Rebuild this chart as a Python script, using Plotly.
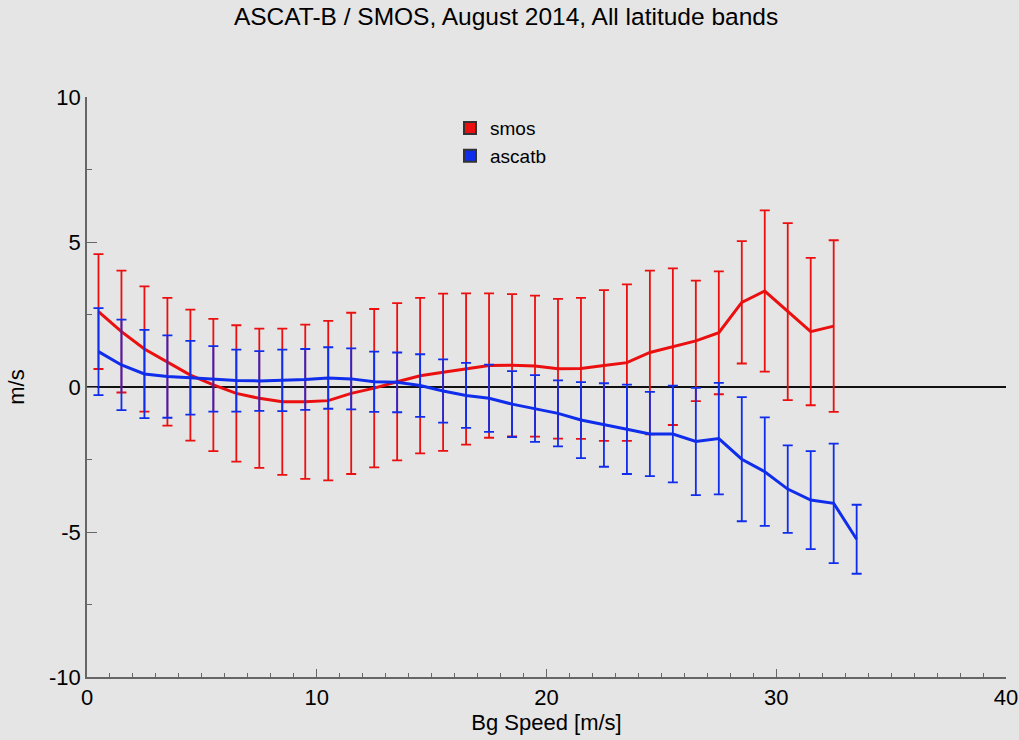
import plotly.graph_objects as go

# ---- data ----
smos_x = [i + 0.5 for i in range(33)]
smos_mean = [2.60, 1.91, 1.31, 0.87, 0.41, 0.07, -0.22, -0.39, -0.51, -0.51, -0.47,
             -0.22, -0.04, 0.18, 0.39, 0.51, 0.62, 0.74, 0.75, 0.72, 0.63, 0.64,
             0.74, 0.84, 1.19, 1.39, 1.59, 1.87, 2.92, 3.31, 2.60, 1.91, 2.10]
smos_std = [1.98, 2.10, 2.16, 2.20, 2.26, 2.28, 2.35, 2.40, 2.52, 2.66, 2.75,
            2.78, 2.73, 2.71, 2.68, 2.71, 2.61, 2.49, 2.45, 2.43, 2.41, 2.43,
            2.60, 2.70, 2.82, 2.70, 2.08, 2.12, 2.11, 2.78, 3.05, 2.54, 2.96]

ascatb_x = [i + 0.5 for i in range(34)]
ascatb_mean = [1.22, 0.76, 0.45, 0.36, 0.32, 0.28, 0.22, 0.21, 0.23, 0.26, 0.31,
               0.28, 0.18, 0.16, 0.05, -0.14, -0.29, -0.39, -0.59, -0.74, -0.91,
               -1.14, -1.31, -1.46, -1.62, -1.62, -1.88, -1.78, -2.49, -2.92,
               -3.52, -3.90, -4.01, -5.25]
ascatb_std = [1.50, 1.56, 1.52, 1.42, 1.27, 1.13, 1.07, 1.03, 1.06, 1.05, 1.06,
              1.05, 1.04, 1.03, 1.08, 1.09, 1.12, 1.16, 1.14, 1.15, 1.14, 1.31,
              1.44, 1.54, 1.45, 1.67, 1.85, 1.92, 2.14, 1.87, 1.51, 1.69, 2.06, 1.19]

x_ticks = [0, 10, 20, 30, 40]
y_ticks = [-10, -5, 0, 5, 10]

RED = "rgb(235,15,15)"
BLUE = "rgb(15,45,235)"
BG = "#e5e5e5"
FONT = "Liberation Sans, Arial, sans-serif"

fig = go.Figure()

fig.add_trace(go.Scatter(
    x=smos_x, y=smos_mean, mode="lines", name="smos", showlegend=False,
    line=dict(color=RED, width=3),
    error_y=dict(type="data", array=smos_std, color=RED, thickness=1.8, width=5),
))
fig.add_trace(go.Scatter(
    x=ascatb_x, y=ascatb_mean, mode="lines", name="ascatb", showlegend=False,
    line=dict(color=BLUE, width=3),
    error_y=dict(type="data", array=ascatb_std, color=BLUE, thickness=1.8, width=5),
))
# legend entries
for nm, col in [("smos", RED), ("ascatb", BLUE)]:
    fig.add_trace(go.Scatter(
        x=[None], y=[None], mode="markers", name=nm,
        marker=dict(symbol="square", size=13, color=col,
                    line=dict(color="#333333", width=1)),
    ))

fig.update_layout(
    width=1019, height=740,
    paper_bgcolor=BG, plot_bgcolor=BG,
    margin=dict(l=87, r=13, t=97, b=63, autoexpand=False),
    font=dict(family=FONT, color="black", size=22),
    title=dict(text="ASCAT-B / SMOS, August 2014, All latitude bands",
               x=0.4966, xanchor="center", y=0.989, yanchor="top",
               font=dict(size=24.5, family=FONT)),
    legend=dict(x=0.395, y=0.979, xanchor="left", yanchor="top",
                bgcolor="rgba(0,0,0,0)", font=dict(size=19, family=FONT),
                itemsizing="constant", tracegroupgap=0),
    showlegend=True,
)

fig.update_xaxes(
    range=[0, 40], tickvals=x_ticks, ticktext=[str(v) for v in x_ticks],
    showgrid=False, zeroline=False, automargin=False,
    showline=True, linecolor="#666666", linewidth=1.5,
    ticks="inside", ticklen=8, tickcolor="#666666", tickwidth=1,
    minor=dict(ticks="inside", ticklen=4, tickcolor="#666666", dtick=1, showgrid=False),
    title=dict(text="Bg Speed [m/s]", standoff=2, font=dict(size=22)),
    tickfont=dict(size=22),
)
fig.update_yaxes(
    range=[-10, 10], tickvals=y_ticks, ticktext=[str(v) for v in y_ticks],
    showgrid=False, automargin=False,
    zeroline=True, zerolinecolor="#111111", zerolinewidth=2,
    showline=True, linecolor="#666666", linewidth=1.5,
    ticks="inside", ticklen=10, tickcolor="#666666", tickwidth=1,
    minor=dict(ticks="inside", ticklen=5, tickcolor="#666666", dtick=2.5, showgrid=False),
    title=dict(text="m/s", standoff=18, font=dict(size=22)),
    tickfont=dict(size=22),
)

fig.write_html("out.html")
